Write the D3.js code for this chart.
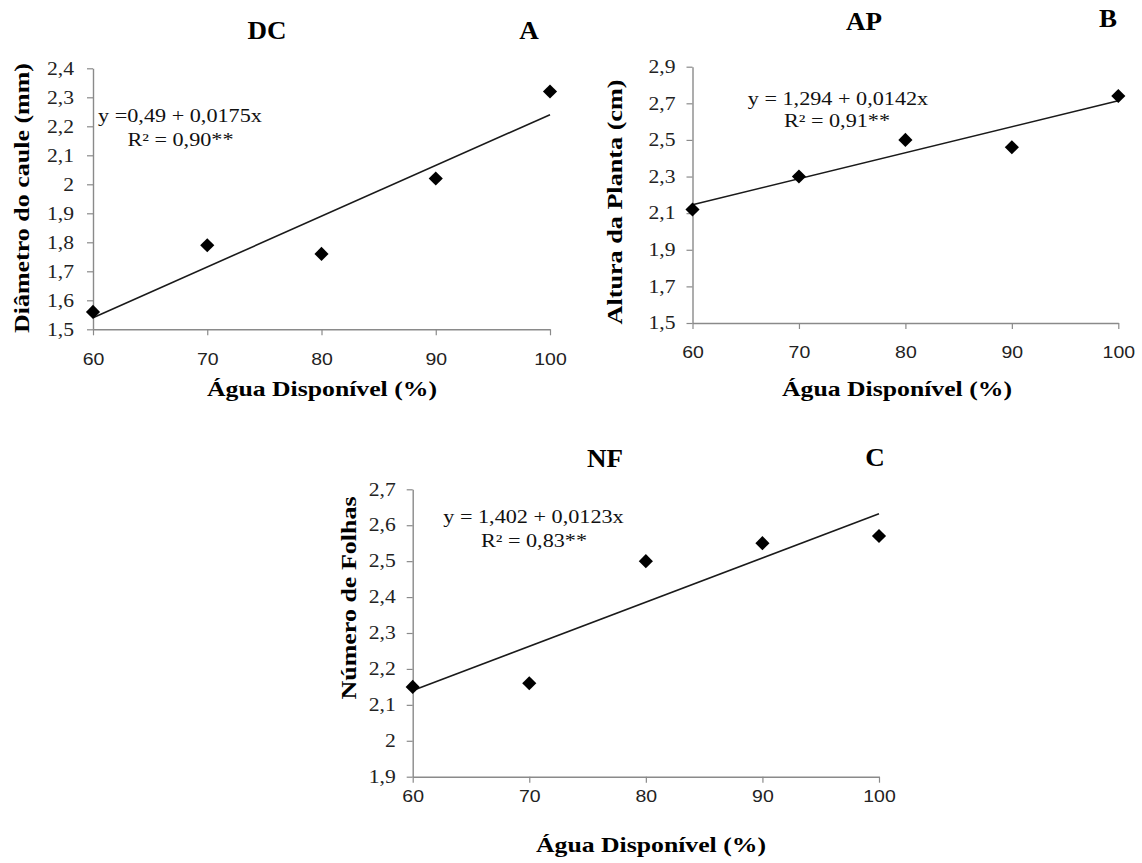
<!DOCTYPE html>
<html>
<head>
<meta charset="utf-8">
<script src="https://cdn.jsdelivr.net/npm/d3@7"></script>
<style>
  html, body { margin: 0; padding: 0; background: #fff; }
  #outer { width: 1142px; height: 863px; }
</style>
</head>
<body>
<div id="outer"></div>
<script>

////////// DATA //////////
const waterLevels = [60, 70, 80, 90, 100];
const diametroCaule = [1.56, 1.79, 1.76, 2.02, 2.32];
const alturaPlanta = [2.12, 2.30, 2.50, 2.46, 2.74];
const numeroFolhas = [2.15, 2.16, 2.50, 2.55, 2.57];

const xTicks = [60, 70, 80, 90, 100];
const yTicksDC = [1.5, 1.6, 1.7, 1.8, 1.9, 2.0, 2.1, 2.2, 2.3, 2.4];
const yTicksAP = [1.5, 1.7, 1.9, 2.1, 2.3, 2.5, 2.7, 2.9];
const yTicksNF = [1.9, 2.0, 2.1, 2.2, 2.3, 2.4, 2.5, 2.6, 2.7];

const intercepts = [0.49, 1.294, 1.402];
const slopes = [0.0175, 0.0142, 0.0123];
const equationLabels = ['y =0,49 + 0,0175x', 'y = 1,294 + 0,0142x', 'y = 1,402 + 0,0123x'];
const r2Labels = ['R² = 0,90**', 'R² = 0,91**', 'R² = 0,83**'];

const panelTitles = ['DC', 'AP', 'NF'];
const panelLetters = ['A', 'B', 'C'];
const yAxisTitles = ['Diâmetro do caule (mm)', 'Altura da Planta (cm)', 'Número de Folhas'];
const xAxisTitle = 'Água Disponível (%)';


////////// LAYOUT (pixel positions per panel) //////////
const layout = [
  { x0: 93, x1: 550, y0: 329.3, y1: 68.3, tickPad: 13, xLabelOff: 36,
    title: [267, 39], letter: [529, 39], eq: [180, 122], r2: [180.5, 146],
    xTitle: [322, 396], yTitle: [22, 198, 270] },
  { x0: 692.5, x1: 1118.3, y0: 323, y1: 66.7, tickPad: 11, xLabelOff: 35,
    title: [864, 30], letter: [1108, 27], eq: [838, 105], r2: [837, 127],
    xTitle: [897, 396], yTitle: [615, 202, 245] },
  { x0: 412.7, x1: 879, y0: 776.7, y1: 489.3, tickPad: 11, xLabelOff: 25,
    title: [605, 467], letter: [875, 466], eq: [533.5, 523], r2: [534, 547],
    xTitle: [651, 852], yTitle: [349, 598, 203] }
];

const seriesList = [diametroCaule, alturaPlanta, numeroFolhas];
const yTickList = [yTicksDC, yTicksAP, yTicksNF];

const SERIF = "'Liberation Serif', 'Times New Roman', serif";
const SANS = "'Liberation Sans', Arial, sans-serif";
const AXIS_GRAY = '#8a8a8a';

const ptLocale = d3.formatLocale({ decimal: ',', thousands: '.', grouping: [3], currency: ['', ''] });
const fmtY = ptLocale.format('~g');


////////// HELPERS //////////
// widen glyphs a bit, the source figure was stretched horizontally
function stretch(sel, k) {
  sel.each(function() {
    const w = this.getComputedTextLength();
    d3.select(this).attr('textLength', w * k).attr('lengthAdjust', 'spacingAndGlyphs');
  });
}

const svg = d3.select('#outer').append('svg')
  .attr('width', 1142)
  .attr('height', 863);


////////// RENDER PANELS //////////
function renderPanel(i) {
  const L = layout[i];
  const g = svg.append('g').attr('class', 'panel panel' + panelLetters[i]);
  const yTicks = yTickList[i];

  const x = d3.scaleLinear().domain([60, 100]).range([L.x0, L.x1]);
  const y = d3.scaleLinear().domain([yTicks[0], yTicks[yTicks.length - 1]]).range([L.y0, L.y1]);

  // Y AXIS
  const yAxis = g.append('g')
    .attr('transform', `translate(${L.x0},0)`)
    .call(d3.axisLeft(y).tickValues(yTicks).tickFormat(fmtY).tickSizeInner(6).tickSizeOuter(0).tickPadding(L.tickPad));
  yAxis.attr('font-family', null).attr('font-size', null);
  yAxis.select('.domain').attr('stroke', AXIS_GRAY).attr('stroke-width', 1.4).attr('fill', 'none');
  yAxis.selectAll('.tick line').attr('stroke', AXIS_GRAY).attr('stroke-width', 1.2);
  yAxis.selectAll('.tick text')
    .style('font-family', SERIF).attr('font-size', 18).attr('fill', '#222')
    .call(stretch, 1.2);

  // X AXIS
  const xAxis = g.append('g')
    .attr('transform', `translate(0,${L.y0})`)
    .call(d3.axisBottom(x).tickValues(xTicks).tickSizeInner(6).tickSizeOuter(0));
  xAxis.attr('font-family', null).attr('font-size', null);
  xAxis.select('.domain').attr('stroke', AXIS_GRAY).attr('stroke-width', 1.4).attr('fill', 'none');
  xAxis.selectAll('.tick line').attr('stroke', AXIS_GRAY).attr('stroke-width', 1.2);
  xAxis.selectAll('.tick text')
    .style('font-family', SANS).attr('font-size', 16.5).attr('fill', '#222')
    .attr('y', L.xLabelOff).attr('dy', 0)
    .call(stretch, 1.18);

  // REGRESSION LINE
  g.append('line')
    .attr('x1', x(60)).attr('y1', y(intercepts[i] + slopes[i] * 60))
    .attr('x2', x(100)).attr('y2', y(intercepts[i] + slopes[i] * 100))
    .attr('stroke', '#1a1a1a')
    .attr('stroke-width', 1.6);

  // DIAMOND MARKERS
  g.selectAll('.pt')
    .data(waterLevels.map((w, j) => [w, seriesList[i][j]]))
    .join('path')
      .attr('class', 'pt')
      .attr('d', d3.symbol(d3.symbolSquare, 100))
      .attr('transform', d => `translate(${x(d[0])},${y(d[1])}) rotate(45)`)
      .attr('fill', '#000');

  // EQUATION + R2
  g.append('text')
    .attr('x', L.eq[0]).attr('y', L.eq[1])
    .attr('text-anchor', 'middle')
    .style('font-family', SERIF).attr('font-size', 18.5).attr('fill', '#111')
    .text(equationLabels[i])
    .call(stretch, 1.2);
  g.append('text')
    .attr('x', L.r2[0]).attr('y', L.r2[1])
    .attr('text-anchor', 'middle')
    .style('font-family', SERIF).attr('font-size', 18.5).attr('fill', '#111')
    .text(r2Labels[i])
    .call(stretch, 1.2);

  // TITLES
  g.append('text')
    .attr('x', L.title[0]).attr('y', L.title[1])
    .attr('text-anchor', 'middle')
    .style('font-family', SERIF).attr('font-size', 25).attr('font-weight', 'bold')
    .text(panelTitles[i])
    .call(stretch, 1.08);
  g.append('text')
    .attr('x', L.letter[0]).attr('y', L.letter[1])
    .attr('text-anchor', 'middle')
    .style('font-family', SERIF).attr('font-size', 25).attr('font-weight', 'bold')
    .text(panelLetters[i])
    .call(stretch, 1.08);

  // AXIS TITLES
  g.append('text')
    .attr('x', L.xTitle[0]).attr('y', L.xTitle[1])
    .attr('text-anchor', 'middle')
    .style('font-family', SERIF).attr('font-size', 21).attr('font-weight', 'bold')
    .attr('textLength', 230).attr('lengthAdjust', 'spacingAndGlyphs')
    .text(xAxisTitle);
  g.append('text')
    .attr('transform', `translate(${L.yTitle[0]},${L.yTitle[1]}) rotate(-90)`)
    .attr('dy', '0.35em')
    .attr('text-anchor', 'middle')
    .style('font-family', SERIF).attr('font-size', 21).attr('font-weight', 'bold')
    .attr('textLength', L.yTitle[2]).attr('lengthAdjust', 'spacingAndGlyphs')
    .text(yAxisTitles[i]);
}

[0, 1, 2].forEach(renderPanel);

</script>
</body>
</html>
